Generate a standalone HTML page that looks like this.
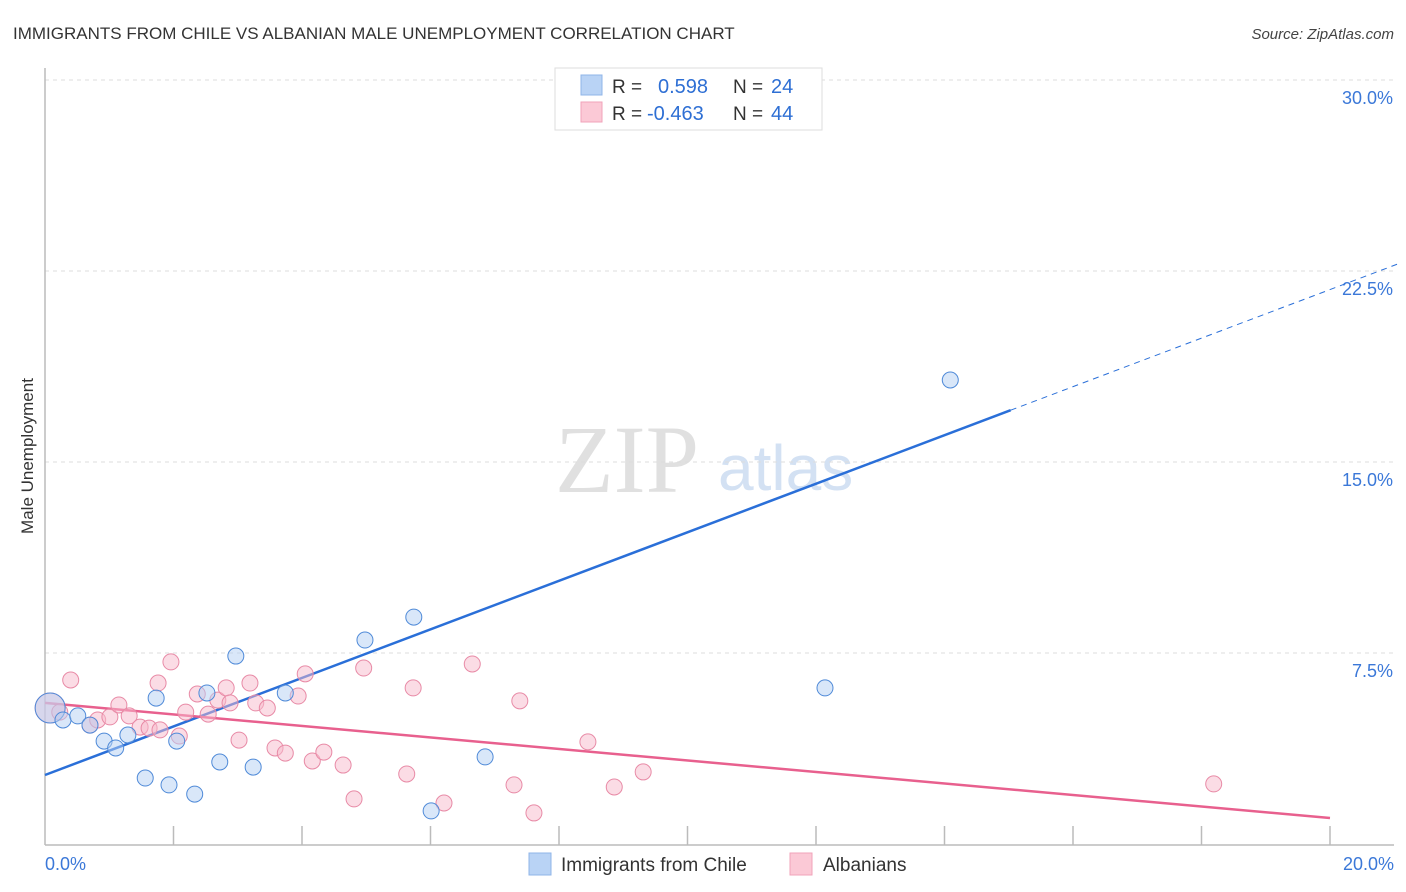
<!DOCTYPE html>
<html><head><meta charset="utf-8"><style>
body{margin:0;background:#fff;font-family:"Liberation Sans",sans-serif;}
svg{display:block}
</style></head><body>
<svg id="chart" width="1406" height="892" viewBox="0 0 1406 892" xmlns="http://www.w3.org/2000/svg">
<text x="13" y="39" font-size="17" fill="#333">IMMIGRANTS FROM CHILE VS ALBANIAN MALE UNEMPLOYMENT CORRELATION CHART</text>
<text x="1394" y="39" font-size="15" fill="#444" font-style="italic" text-anchor="end">Source: ZipAtlas.com</text>
<g>
<text x="555" y="492" font-size="96" font-family="Liberation Serif,serif" fill="#e0e0e0">ZIP</text>
<text x="718" y="490" font-size="64" fill="#d3e1f3">atlas</text>
</g>
<g id="grid"></g>
<g id="axes"></g>
<g id="lines"></g>
<g id="pts"></g>
<text transform="translate(33,456) rotate(-90)" font-size="17" fill="#333" text-anchor="middle">Male Unemployment</text>
<g>
<rect x="555" y="68" width="267" height="62" fill="#fff" stroke="#ddd"/>
<rect x="581" y="75" width="21" height="20" fill="#b9d3f5" stroke="#8fb5e8"/>
<rect x="581" y="102" width="21" height="20" fill="#fbc9d6" stroke="#f0a3ba"/>
<text x="612" y="93" font-size="19" fill="#333">R = </text><text x="658" y="93" font-size="20" fill="#2e6fd4">0.598</text>
<text x="733" y="93" font-size="19" fill="#333">N = </text><text x="771" y="93" font-size="20" fill="#2e6fd4">24</text>
<text x="612" y="120" font-size="19" fill="#333">R = </text><text x="647" y="120" font-size="20" fill="#2e6fd4">-0.463</text>
<text x="733" y="120" font-size="19" fill="#333">N = </text><text x="771" y="120" font-size="20" fill="#2e6fd4">44</text>
</g>
<g>
<rect x="529" y="853" width="22" height="22" fill="#b9d3f5" stroke="#8fb5e8"/>
<text x="561" y="871" font-size="19" fill="#333">Immigrants from Chile</text>
</g>
<g>
<rect x="790" y="853" width="22" height="22" fill="#fbc9d6" stroke="#f0a3ba"/>
<text x="823" y="871" font-size="19" fill="#333">Albanians</text>
</g>
</svg>
<script>
const yTicks=[7.5,15,22.5,30];
const yTickLabels=["7.5%","15.0%","22.5%","30.0%"];
const xTickLabels=["0.0%","20.0%"];
const chileX=[0.08,0.28,0.51,0.70,0.92,1.10,1.29,1.56,1.73,1.93,2.05,2.33,2.52,2.72,2.97,3.24,3.74,4.98,5.74,6.01,6.85,9.26,12.14,14.09];
const chileY=[5.34,4.87,5.03,4.67,4.04,3.77,4.28,2.59,5.73,2.32,4.04,1.96,5.93,3.22,7.38,3.02,5.93,8.01,8.91,1.30,3.42,29.14,6.13,18.22];
const albX=[0.08,0.23,0.40,0.70,0.82,1.01,1.15,1.31,1.48,1.62,1.76,1.79,1.96,2.09,2.19,2.37,2.54,2.69,2.82,2.88,3.02,3.19,3.28,3.46,3.58,3.74,3.94,4.05,4.16,4.34,4.64,4.81,4.96,5.63,5.73,6.21,6.65,7.30,7.39,7.61,8.45,8.86,9.31,18.19];
const albY=[5.34,5.18,6.44,4.67,4.87,4.99,5.46,5.03,4.59,4.55,6.32,4.48,7.15,4.24,5.18,5.89,5.10,5.65,6.13,5.54,4.08,6.32,5.54,5.34,3.77,3.57,5.81,6.68,3.26,3.61,3.10,1.77,6.91,2.75,6.13,1.61,7.07,2.32,5.62,1.22,4.01,2.24,2.83,2.36];
const chileTrend=[2.71,0.953];
const albTrend=[5.54,-0.226];
const NS="http://www.w3.org/2000/svg";
const X=v=>45+v/20*1285;
const Y=v=>844-v/7.5*191;
function mk(tag,attrs,parent){const e=document.createElementNS(NS,tag);for(const k in attrs)e.setAttribute(k,attrs[k]);document.getElementById(parent).appendChild(e);return e;}
yTicks.forEach((t,i)=>{
 let l=mk('line',{x1:45,x2:1394,y1:Y(t),y2:Y(t),stroke:'#ddd','stroke-dasharray':'4,4'},'grid');
 
 
 let tx=mk('text',{x:1393,y:Y(t)+24,'font-size':18,fill:'#3b78d8','text-anchor':'end'},'grid');
 tx.textContent=yTickLabels[i];
 
 
});
let ax=mk('line',{x1:45,x2:45,y1:68,y2:845,stroke:'#bbb','stroke-width':1.5},'axes');


let bx=mk('line',{x1:45,x2:1394,y1:845,y2:845,stroke:'#bbb','stroke-width':1.5},'axes');


for(let i=1;i<=10;i++){
 let t=mk('line',{x1:X(i*2),x2:X(i*2),y1:826,y2:845,stroke:'#bbb','stroke-width':1.5},'axes');
 
 
}
[[0,'start',45],[20,'end',1394]].forEach((d,i)=>{
 let tx=mk('text',{x:d[2],y:870,'font-size':18,fill:'#3b78d8','text-anchor':d[1]},'axes');
 tx.textContent=xTickLabels[i];
 
 
});
function pts(xs,ys,fill,stroke,name){xs.forEach((x,i)=>{
 let c=mk('circle',{cx:X(x),cy:Y(ys[i]),r:(i===0?15:8),fill:fill,'fill-opacity':0.5,stroke:stroke,'stroke-width':1},'pts');
 
 
});}
pts(albX,albY,'#f8b9cb','#e88aa6','albanians-point');
pts(chileX,chileY,'#b3cff3','#4f8ad8','chile-point');
const f=(t,x)=>t[0]+t[1]*x;
let l1=mk('line',{x1:X(0),y1:Y(f(chileTrend,0)),x2:X(15.03),y2:Y(f(chileTrend,15.03)),stroke:'#2a6fd8','stroke-width':2.5},'lines');


let l2=mk('line',{x1:X(15.03),y1:Y(f(chileTrend,15.03)),x2:X(21.1),y2:Y(f(chileTrend,21.1)),stroke:'#2a6fd8','stroke-width':1,'stroke-dasharray':'6,5'},'lines');


let l3=mk('line',{x1:X(0),y1:Y(f(albTrend,0)),x2:X(20),y2:Y(f(albTrend,20)),stroke:'#e8608e','stroke-width':2.5},'lines');


</script>
</body></html>
